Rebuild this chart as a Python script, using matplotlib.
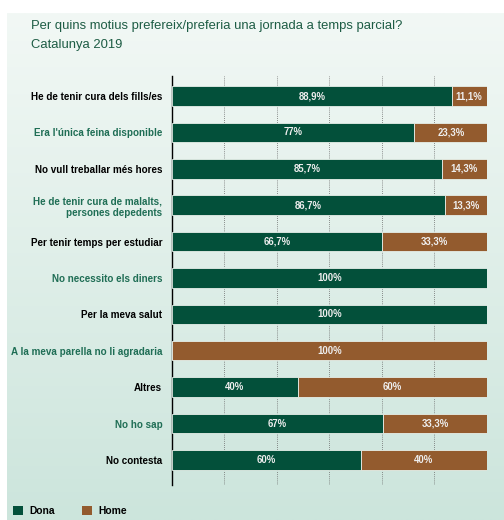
import matplotlib
matplotlib.use("Agg")
import matplotlib.pyplot as plt
import numpy as np
from matplotlib.patches import Patch

categories = [
    "He de tenir cura dels fills/es",
    "Era l'única feina disponible",
    "No vull treballar més hores",
    "He de tenir cura de malalts,\npersones depedents",
    "Per tenir temps per estudiar",
    "No necessito els diners",
    "Per la meva salut",
    "A la meva parella no li agradaria",
    "Altres",
    "No ho sap",
    "No contesta",
]
dona = [88.9, 77, 85.7, 86.7, 66.7, 100, 100, 0, 40, 67, 60]
home = [11.1, 23.3, 14.3, 13.3, 33.3, 0, 0, 100, 60, 33.3, 40]
dona_labels = ["88,9%", "77%", "85,7%", "86,7%", "66,7%", "100%", "100%", "", "40%", "67%", "60%"]
home_labels = ["11,1%", "23,3%", "14,3%", "13,3%", "33,3%", "", "", "100%", "60%", "33,3%", "40%"]
series_names = ["Dona", "Home"]

C_DONA = "#03503a"
C_HOME = "#935b2e"
C_TITLE = "#1d5c44"
C_GREEN_LABEL = "#1f6e55"

FONT = ["Liberation Sans", "DejaVu Sans"]
plt.rcParams["font.family"] = FONT

W, H = 504, 520
fig = plt.figure(figsize=(W / 100, H / 100), dpi=100)

# background gradient panel
bg = fig.add_axes([7 / W, 0, 1 - 7 / W, (H - 13) / H], zorder=-10)
grad = np.linspace(0, 1, 256).reshape(-1, 1)
top = np.array([0xf2, 0xf8, 0xf5]) / 255
bot = np.array([0xcc, 0xe5, 0xdc]) / 255
img = top[None, None, :] * (1 - grad[:, :, None]) + bot[None, None, :] * grad[:, :, None]
bg.imshow(img, aspect="auto", extent=[0, 1, 0, 1], origin="upper")
bg.set_axis_off()

ax = fig.add_axes([172 / W, 1 - 485 / H, (486.7 - 172) / W, (485 - 76) / H])
ax.patch.set_alpha(0)
y = np.arange(len(categories))
bh = 0.535
ax.barh(y, dona, height=bh, color=C_DONA, edgecolor="#e6efe9", linewidth=0.6, zorder=3)
ax.barh(y, home, left=dona, height=bh, color=C_HOME, edgecolor="#e6efe9", linewidth=0.6, zorder=3)

for i in range(len(categories)):
    if dona[i] > 0:
        ax.text(dona[i] / 2, y[i], dona_labels[i], ha="center", va="center",
                color="#eeeeee", fontsize=6.9, fontweight="bold", zorder=5)
    if home[i] > 0:
        ax.text(dona[i] + home[i] / 2, y[i], home_labels[i], ha="center", va="center",
                color="#eeeeee", fontsize=6.9, fontweight="bold", zorder=5)

ax.set_xlim(0, 100)
ax.set_ylim(10.69, -0.55)
for k in range(1, 7):
    ax.axvline(100 * k / 6, color="#6a6a6a", linestyle=(0, (1, 1.5)), linewidth=0.6, zorder=1)
for s in ["top", "right", "bottom"]:
    ax.spines[s].set_visible(False)
ax.spines["left"].set_color("black")
ax.spines["left"].set_linewidth(1.0)
ax.set_xticks([])
ax.set_yticks(y)
ax.set_yticklabels(categories, fontsize=7.1, fontweight="bold")
ax.tick_params(axis="y", length=0, pad=7)
for i, t in enumerate(ax.get_yticklabels()):
    t.set_color("black" if i % 2 == 0 else C_GREEN_LABEL)
    t.set_horizontalalignment("right")
    t.set_multialignment("right")

fig.text(31 / W, 1 - 28.5 / H, "Per quins motius prefereix/preferia una jornada a temps parcial?",
         fontsize=9.4, color=C_TITLE, ha="left", va="baseline")
fig.text(31 / W, 1 - 48 / H, "Catalunya 2019",
         fontsize=9.4, color=C_TITLE, ha="left", va="baseline")

handles = [Patch(facecolor=C_DONA), Patch(facecolor=C_HOME)]
fig.legend(handles, series_names, loc="lower left", bbox_to_anchor=(7 / W, -2 / H),
           ncol=2, frameon=False, handlelength=1.0, handleheight=1.0, handletextpad=0.6,
           columnspacing=2.6, borderpad=0.1, prop={"family": FONT, "weight": "bold", "size": 7.4})

fig.savefig("out.png", dpi=100)
